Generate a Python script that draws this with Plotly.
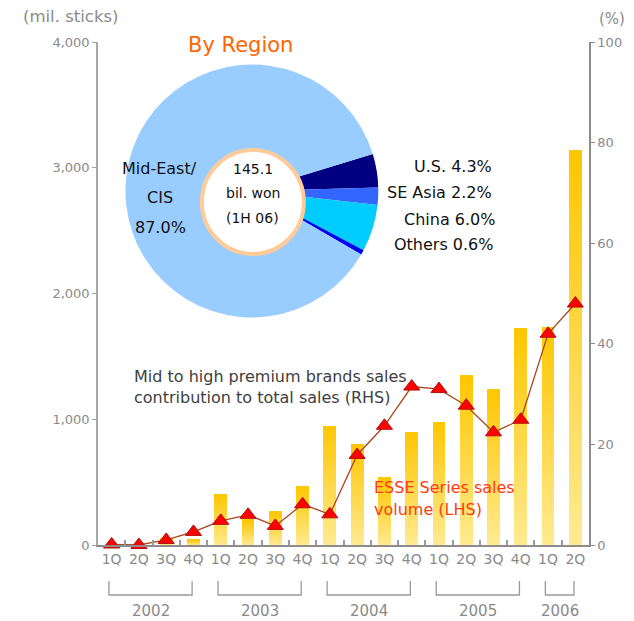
import plotly.graph_objects as go

# ---- data ----
quarters = ["1Q", "2Q", "3Q", "4Q"] * 4 + ["1Q", "2Q"]
years = ["2002", "2003", "2004", "2005", "2006"]
year_quarter_counts = [4, 4, 4, 4, 2]

# ESSE series sales volume (mil. sticks, LHS)
esse_volume = [5, 3, 50, 40, 400, 200, 270, 470, 950, 805,
               540, 900, 980, 1350, 1240, 1725, 1735, 3140]

# Mid to high premium brands share of total sales (%, RHS)
premium_share = [0.1, 0.0, 1.0, 2.6, 4.8, 6.0, 3.8, 8.1, 6.1, 17.9,
                 23.7, 31.5, 31.0, 27.7, 22.4, 24.9, 42.0, 48.0]

# 1H 06 sales by region (%)
region_names = ["U.S.", "SE Asia", "China", "Others", "Mid-East/CIS"]
region_share = [4.3, 2.2, 6.0, 0.6, 87.0]
region_colors = ["#000080", "#3366FF", "#00CCFF", "#0000EE", "#99CCFF"]

left_ticks = [0, 1000, 2000, 3000, 4000]
right_ticks = [0, 20, 40, 60, 80, 100]

# ---- layout geometry (pixels) ----
W, H = 634, 621
ML, MR, MT, MB = 98, 35, 42, 76
PW, PH = W - ML - MR, H - MT - MB


def px(x):
    return (x - ML) / PW


def py(y):
    return (H - MB - y) / PH


FONT = "DejaVu Sans"
GREY = "#8a8a8a"

fig = go.Figure()

# bars drawn as stacked slices so each column fades from light (bottom) to deep yellow (top)
N_SLICES = 40
bottom_rgb = (255, 234, 145)
top_rgb = (255, 198, 0)
xs = list(range(len(esse_volume)))
for k in range(N_SLICES):
    t = (k + 0.5) / N_SLICES
    r, g, b = [round(bottom_rgb[i] + (top_rgb[i] - bottom_rgb[i]) * t) for i in range(3)]
    fig.add_trace(go.Bar(
        x=xs, y=[v / N_SLICES for v in esse_volume],
        marker=dict(color=f"rgb({r},{g},{b})", line=dict(width=0)),
        showlegend=False, hoverinfo="skip", yaxis="y",
    ))

fig.add_trace(go.Scatter(
    x=xs, y=premium_share, yaxis="y2", mode="lines+markers",
    line=dict(color="#A8481E", width=1.3),
    marker=dict(symbol="triangle-up", size=14, color="#FF0000",
                line=dict(color="#B01010", width=1)),
    showlegend=False, cliponaxis=False,
))

# regional breakdown pie
fig.add_trace(go.Pie(
    labels=region_names, values=region_share, sort=False,
    direction="clockwise", rotation=73,
    marker=dict(colors=region_colors, line=dict(width=0)),
    textinfo="none", hoverinfo="label+percent", showlegend=False,
    domain=dict(x=[px(126), px(384)], y=[py(320), py(62)]),
))

# minor ticks at quarter boundaries
boundaries = [i + 0.5 for i in range(len(esse_volume) - 1)]

fig.update_layout(
    width=W, height=H,
    margin=dict(l=ML, r=MR, t=MT, b=MB),
    paper_bgcolor="white", plot_bgcolor="white",
    barmode="stack", bargap=0.53,
    font=dict(family=FONT, color=GREY),
    xaxis=dict(
        range=[-0.5, len(esse_volume) - 0.5],
        tickvals=xs, ticktext=quarters, ticks="",
        tickfont=dict(size=14, color=GREY),
        showline=True, linecolor="#8c8c8c", linewidth=1.5,
        showgrid=False, zeroline=False, fixedrange=True,
        minor=dict(tickvals=boundaries, ticks="inside", ticklen=5,
                   tickcolor="#9a9a9a", tickwidth=1.5, showgrid=False),
    ),
    yaxis=dict(
        range=[0, 4000], tickvals=left_ticks,
        ticktext=[f"{v:,}" for v in left_ticks],
        ticks="outside", ticklen=4, tickcolor="#a0a0a0",
        tickfont=dict(size=13, color=GREY),
        showline=True, linecolor="#a8a8a8", linewidth=1.5,
        showgrid=False, zeroline=False,
    ),
    yaxis2=dict(
        range=[0, 100], tickvals=right_ticks, overlaying="y", side="right",
        ticks="outside", ticklen=4, tickcolor="#8c8c8c",
        tickfont=dict(size=13, color=GREY),
        showline=True, linecolor="#8c8c8c", linewidth=1.5,
        showgrid=False, zeroline=False,
    ),
)

shapes = []
annotations = []

# centre disc of the pie
cx, cy, rad = 256, 202, 52
shapes.append(dict(
    type="circle", xref="paper", yref="paper",
    x0=px(cx - rad), x1=px(cx + rad), y0=py(cy + rad), y1=py(cy - rad),
    fillcolor="white", line=dict(color="#FFCC99", width=4), layer="above",
))

# year brackets under the quarter labels
start = 0
for yr, n in zip(years, year_quarter_counts):
    a, b = start - 0.1, start + n - 1 - 0.05
    y_top, y_bot = py(581), py(595)
    shapes.append(dict(
        type="path", xref="x", yref="paper",
        path=f"M {a} {y_top} L {a} {y_bot} L {b} {y_bot} L {b} {y_top}",
        line=dict(color="#9a9a9a", width=1.3),
    ))
    annotations.append(dict(
        x=(a + b) / 2, y=py(611), xref="x", yref="paper", text=yr,
        showarrow=False, font=dict(size=15, color=GREY),
        xanchor="center", yanchor="middle",
    ))
    start += n


def label(text, x, y, size, color, xanchor="left"):
    annotations.append(dict(
        x=px(x), y=py(y), xref="paper", yref="paper", text=text,
        showarrow=False, font=dict(family=FONT, size=size, color=color),
        xanchor=xanchor, yanchor="middle",
    ))


label("(mil. sticks)", 19, 17, 16.5, GREY)
label("(%)", 607, 19, 15, GREY)
label("By Region", 243, 45, 21, "#FF6600", "center")

label("Mid-East/", 161, 168, 16, "#111111", "center")
label("CIS", 161, 197, 16, "#111111", "center")
label("87.0%", 162, 227, 16, "#111111", "center")

label("145.1", 256, 169, 14, "#111111", "center")
label("bil. won", 256, 193, 14, "#111111", "center")
label("(1H 06)", 256, 218, 14, "#111111", "center")

for name, share, y, xr in zip(region_names[:4], region_share[:4],
                              [167, 193, 219, 244], [502, 502, 505, 504]):
    label(f"{name} {share:.1f}%", xr, y, 16, "#111111", "right")

label("Mid to high premium brands sales", 133, 376, 16, "#404040")
label("contribution to total sales (RHS)", 133, 398, 16, "#404040")
label("ESSE Series sales", 378, 487, 16, "#FF3A10")
label("volume (LHS)", 378, 509, 16, "#FF3A10")

fig.update_layout(shapes=shapes, annotations=annotations)

fig.write_html("out.html")
